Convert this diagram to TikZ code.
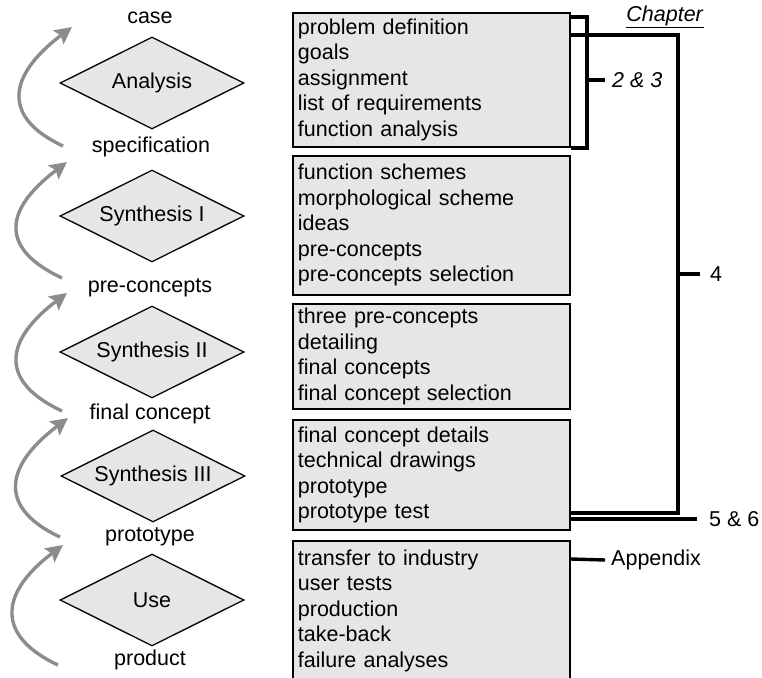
\documentclass[tikz,border=0pt]{standalone}
\usepackage{fontspec}
\setmainfont{Liberation Sans}
\usetikzlibrary{positioning,arrows.meta,calc,shapes.geometric}
\definecolor{boxF}{HTML}{E6E6E6}
\definecolor{iterG}{HTML}{8C8C8C}

\begin{document}
\begin{tikzpicture}[
    x=1pt, y=-1pt,
    font=\fontsize{21.5}{25.5}\selectfont,
    stage/.style={diamond,draw=black,fill=boxF,line width=1.3pt,aspect=2,
                  minimum width=184pt,minimum height=92pt,inner sep=0pt},
    state/.style={inner sep=0pt},
    task/.style={draw=black,fill=boxF,line width=1.8pt,anchor=north west,
                 text width=267pt,inner xsep=5pt,inner ysep=0pt,align=left},
    chap/.style={anchor=west,inner sep=0pt},
    brk/.style={line width=3.4pt},
    iter/.style={-{Stealth[length=17pt,width=17pt,inset=3pt]},
                 line width=3.4pt,color=iterG},
]
\useasboundingbox (0,0) rectangle (762,677);

% =====================================================================
%  design stages (diamonds) with their results in between
% =====================================================================
\node[state] (case)  at (150,18)  {case};
\node[stage] (ana)   at (152,83)  {Analysis};
\node[state] (spec)  at (151,147) {specification};
\node[stage] (syn1)  at (152,216) {Synthesis I};
\node[state] (prec)  at (150,288) {pre-concepts};
\node[stage] (syn2)  at (152,352) {Synthesis II};
\node[state] (fcon)  at (150,414) {final concept};
\node[stage] (syn3)  at (153,476) {Synthesis III};
\node[state] (proto) at (150,537) {prototype};
\node[stage] (use)   at (152,600) {Use};
\node[state] (prod)  at (150,660) {product};

% iteration arrows on the left (from result back up past the stage)
\foreach \i/\sx/\sy/\ex/\ey in {1/63/146/72/27, 2/62/278/67/162,
                                3/62/411/67/293, 4/60/537/68/418,
                                5/58/665/63/545} {
   \coordinate (as\i) at (\sx,\sy);
   \coordinate (ae\i) at (\ex,\ey);
   \draw[iter] (as\i) .. controls ($(as\i)+(-60,-28)$)
                         and ($(ae\i)+(-66,50)$) .. (ae\i);
}

% =====================================================================
%  activities per stage
% =====================================================================
\node[task,minimum height=134pt] (box1) at (292,12)
   {problem definition\\goals\\assignment\\list of requirements\\function analysis};
\node[task,minimum height=139pt] (box2) at (292,155)
   {function schemes\\morphological scheme\\ideas\\pre-concepts\\pre-concepts selection};
\node[task,minimum height=105pt] (box3) at (292,303)
   {three pre-concepts\\detailing\\final concepts\\final concept selection};
\node[task,minimum height=110pt] (box4) at (292,419)
   {final concept details\\technical drawings\\prototype\\prototype test};
\node[task,minimum height=140pt] (box5) at (292,540)
   {transfer to industry\\user tests\\production\\take-back\\failure analyses};

% =====================================================================
%  chapter brackets
% =====================================================================
\node (chapter) at (665,17) {\underline{\textit{Chapter}}};
\node[chap] (n23)  at (612,80)  {\textit{2 \& 3}};
\node[chap] (n4)   at (710,274) {4};
\node[chap] (n56)  at (709,519) {5 \& 6};
\node[chap] (napp) at (611,560) {Appendix};

\coordinate (sp23) at (587,80);
\coordinate (sp4)  at (678,274);

\draw[brk] (box1.east |- 0,17) -| (sp23) |- (box1.south east);
\draw[brk] (sp23) -- ([xshift=-7pt]n23.west);

\draw[brk] (box1.east |- 0,35) -| (sp4) |- (box4.east |- 0,513);
\draw[brk] (sp4) -- ([xshift=-10pt]n4.west);

\draw[brk] (box4.east |- 0,519) -- ([xshift=-12pt]n56.west);
\draw[brk] (box5.east |- 0,559) -- ([xshift=-6pt]napp.west);

\end{tikzpicture}
\end{document}
